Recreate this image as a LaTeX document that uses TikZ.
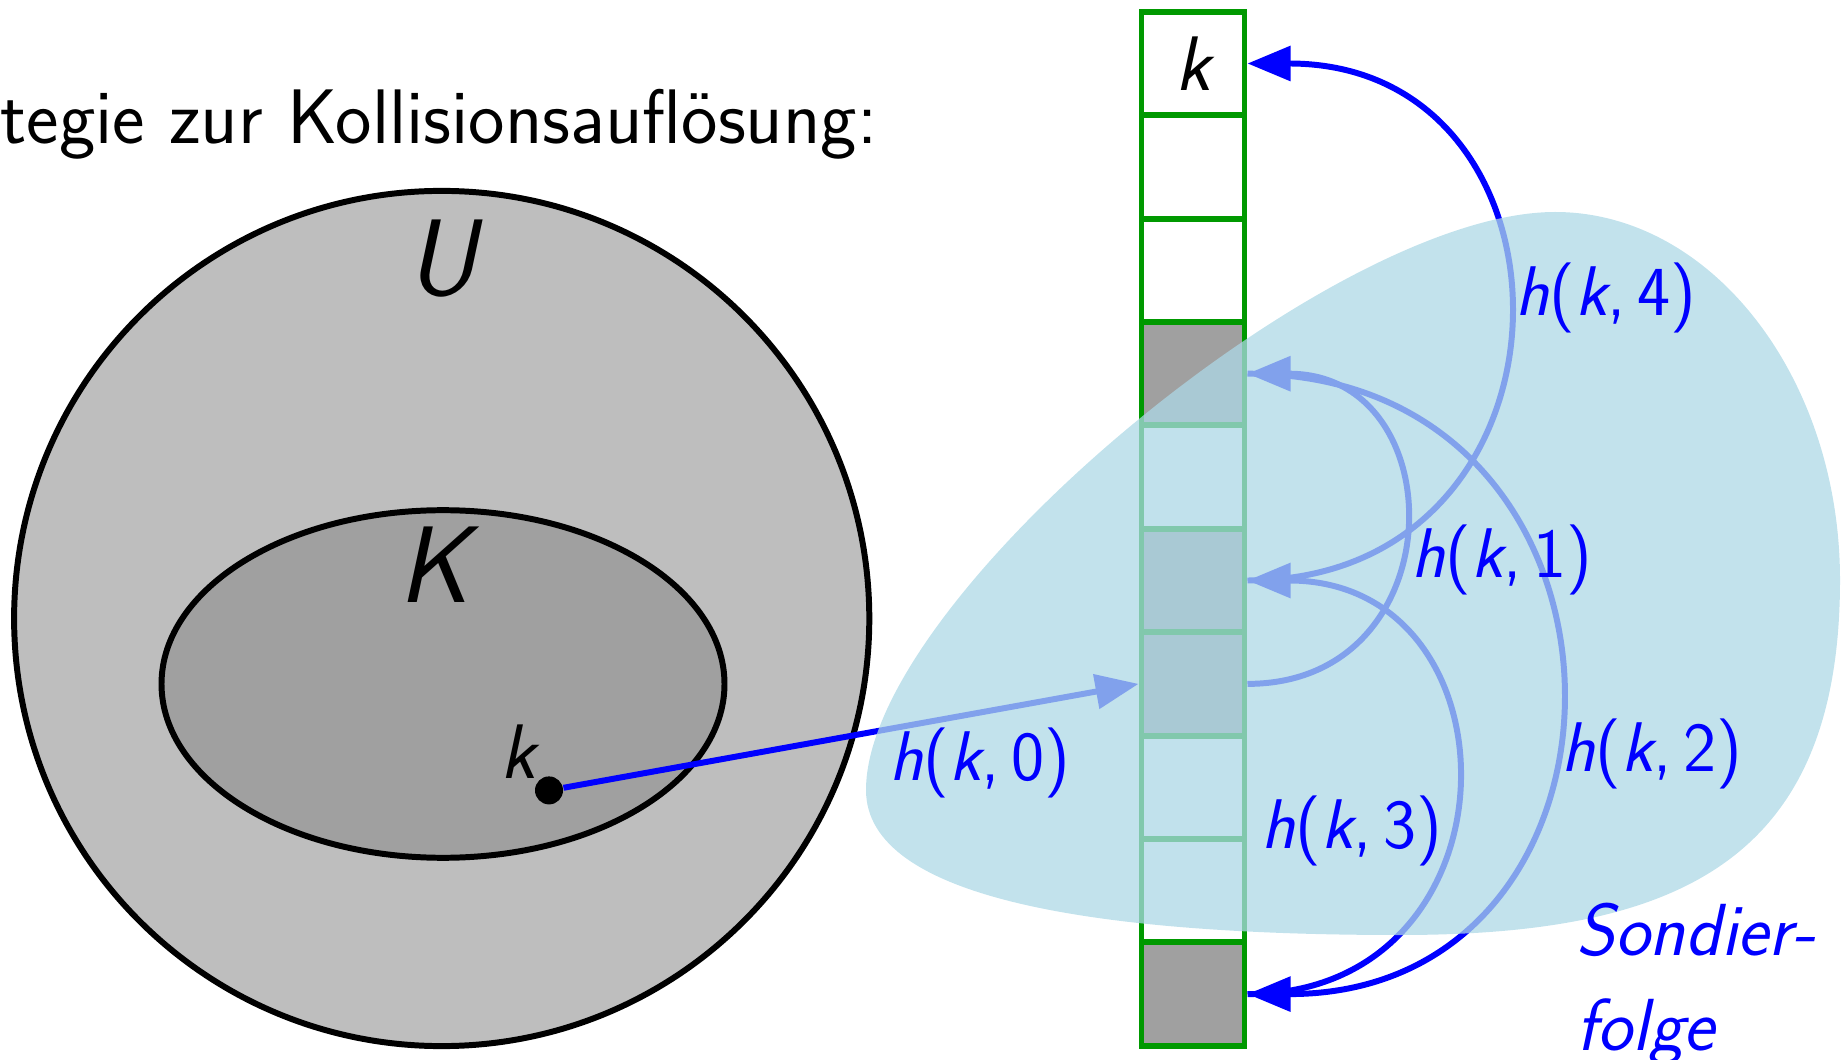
\documentclass[tikz,border=0pt]{standalone}
\usepackage{tikz}
\usetikzlibrary{arrows.meta,positioning}
\renewcommand{\familydefault}{\sfdefault}
\definecolor{uGrey}{RGB}{190,190,190}
\definecolor{kGrey}{RGB}{160,160,160}
\definecolor{tabEdge}{RGB}{0,153,0}
\definecolor{blobCol}{RGB}{173,216,230}
\tikzset{
  cell/.style={draw=tabEdge, fill=#1, line width=1.7pt, minimum width=1.03cm,
        minimum height=1.034cm, inner sep=0pt},
  probe/.style={-{Triangle[length=4.3mm,width=3.4mm]}, blue, line width=1.7pt},
  plbl/.style={blue, font=\sffamily\fontsize{20}{24}\selectfont},
  setlbl/.style={font=\sffamily\fontsize{31}{37}\selectfont\itshape},
}

\begin{document}
\begin{tikzpicture}[font=\sffamily]
  \useasboundingbox (0,0) rectangle (18.47,-10.60);
  \node[anchor=base west, inner sep=0pt, font=\sffamily\fontsize{22}{26}\selectfont] (title) at (0,-1.437)
       {tegie zur Kollisionsauflösung:};
  % universe and key set
  \draw[fill=uGrey, line width=1.7pt] (4.417,-6.185) circle (4.276);
  \draw[fill=kGrey, line width=1.7pt] (4.43,-6.84) ellipse (2.815 and 1.738);
  \node[setlbl] (ulbl) at (4.42,-2.59) {U};
  \node[setlbl] (klbl) at (4.335,-5.65) {K};
  \node[circle, fill=black, inner sep=0pt, minimum size=0.28cm] (kpt) at (5.49,-7.904) {};
  \node[font=\sffamily\fontsize{22}{26}\selectfont\itshape] (kkey) at (5.18,-7.52) {k};
  % hash table
  \foreach \i/\c in {0/white,1/white,2/white,3/kGrey,4/white,5/kGrey,6/kGrey,7/white,8/white,9/kGrey}
    \node[cell=\c] (r\i) at (11.93,-0.635-1.034*\i) {};
  \node[font=\sffamily\fontsize{22}{26}\selectfont\itshape] (kin) at (r0) {k};
  % probe sequence
  \draw[probe] (kpt) -- (r6.west);
  \draw[probe] (r6) to[out=0,in=0,looseness=1.72] (r3);
  \draw[probe] (r3) to[out=0,in=0,looseness=1.72] (r9);
  \draw[probe] (r9) to[out=0,in=0,looseness=1.72] (r5);
  \draw[probe] (r5) to[out=0,in=0,looseness=1.72] (r0);
  % shaded region
  \fill[blobCol, fill opacity=0.75] (15.55,-2.12)
    .. controls (17.12,-2.12) and (18.40,-3.78) .. (18.40,-5.80)
    .. controls (18.40,-8.60) and (16.80,-9.35) .. (14.00,-9.35)
    .. controls (11.00,-9.35) and (8.66,-9.00) .. (8.66,-7.90)
    .. controls (8.66,-6.00) and (13.30,-2.12) .. (15.55,-2.12) -- cycle;
  \node[plbl] (h0) at (9.80,-7.63) {\textit{h}(\textit{k},\,0)};
  \node[plbl] (h1) at (15.02,-5.595) {\textit{h}(\textit{k},\,1)};
  \node[plbl] (h2) at (16.516,-7.54) {\textit{h}(\textit{k},\,2)};
  \node[plbl] (h3) at (13.52,-8.305) {\textit{h}(\textit{k},\,3)};
  \node[plbl] (h4) at (16.056,-2.98) {\textit{h}(\textit{k},\,4)};
  \node[blue, anchor=west, align=left, inner sep=0pt,
        font=\sffamily\fontsize{21}{27}\selectfont\itshape] (sf) at (15.76,-9.84) {Sondier-\\folge};
\end{tikzpicture}
\end{document}
